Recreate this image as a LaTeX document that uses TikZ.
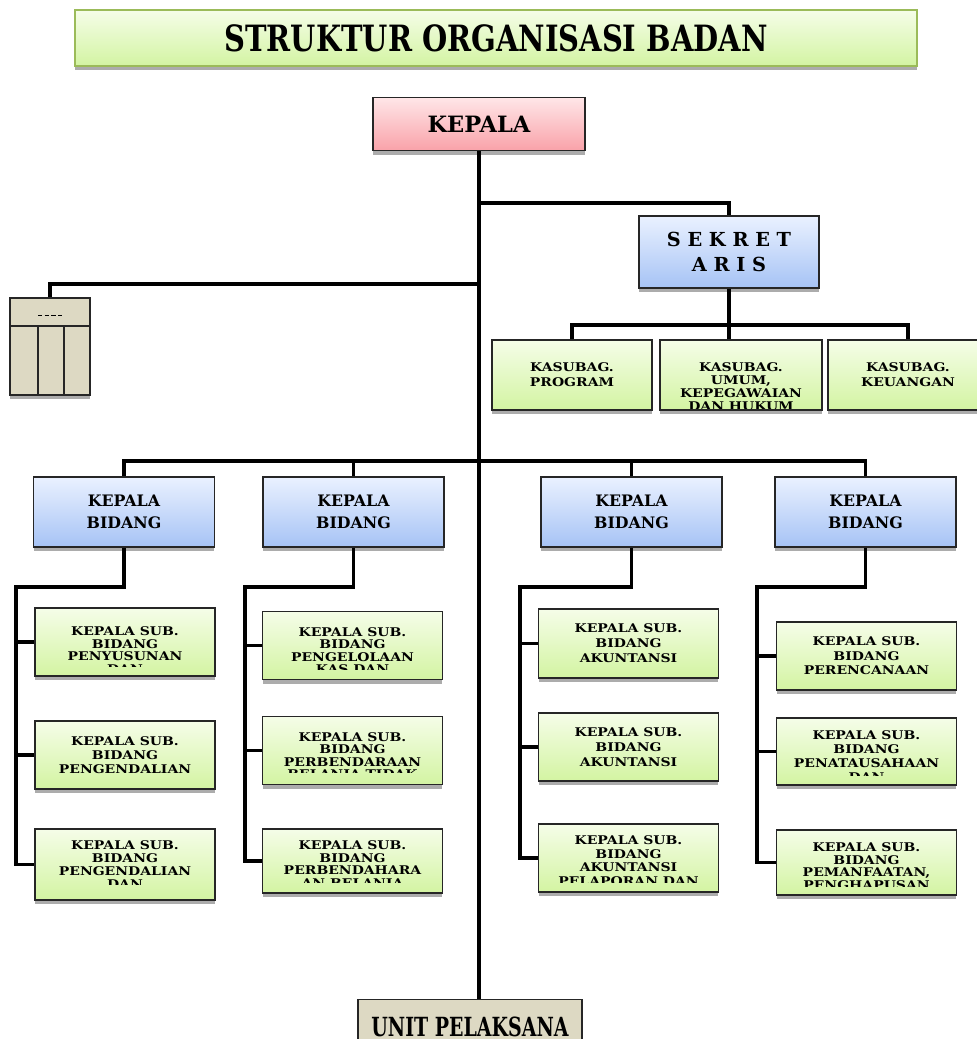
\documentclass[tikz,border=0pt]{standalone}
\usepackage{fontspec}
\setmainfont{DejaVu Serif}
\newfontfamily\condfont{DejaVu Serif}[FakeStretch=0.8]
\newfontfamily\sempitfont{DejaVu Serif}[FakeStretch=0.72]
\newfontfamily\lebarfont{DejaVu Serif}[FakeStretch=1.17]
\usetikzlibrary{shadows}
\usetikzlibrary{positioning}

\definecolor{ijoatas}{HTML}{F5FDE8}
\definecolor{ijobawah}{HTML}{D3F4A2}
\definecolor{biruatas}{HTML}{EAF1FF}
\definecolor{birubawah}{HTML}{A6C3F5}
\definecolor{merahatas}{HTML}{FFE6E8}
\definecolor{merahbawah}{HTML}{F9A2A9}
\definecolor{krem}{HTML}{DDD9C3}
\definecolor{judulgaris}{HTML}{9BBB59}

% huruf kotak kecil, argumen = jarak baris
\newcommand\subfont[1]{\lebarfont\fontsize{6.8}{#1}\selectfont\bfseries}

\tikzset{
  garis/.style={line width=2.2pt},
  box/.style={draw=black!85, line width=0.9pt, inner sep=0pt, align=center,
    drop shadow={shadow xshift=0pt, shadow yshift=-0.08cm, fill=gray!65, opacity=1}},
  ijo/.style={box, top color=ijoatas, bottom color=ijobawah},
  biru/.style={box, top color=biruatas, bottom color=birubawah},
  merah/.style={box, top color=merahatas, bottom color=merahbawah},
  beige/.style={box, fill=krem},
  bidbox/.style={biru, minimum width=3.62cm, minimum height=1.4cm, font=\fontsize{9}{12.5}\selectfont\bfseries},
  subbox/.style={ijo, minimum width=3.6cm, minimum height=1.36cm},
  kasbox/.style={ijo, minimum width=3.2cm, minimum height=1.4cm, font=\subfont{8.5}},
  % teks terpotong: huruf, jarak dari atas, batas bawah, teks
  potong/.style n args={4}{path picture={
    \clip ([yshift=#3]path picture bounding box.south west) rectangle (path picture bounding box.north east);
    \node[anchor=north, align=center, inner sep=0pt, minimum width=0pt, minimum height=0pt,
      draw=none, fill=none, font=#1] at ([yshift=-#2]path picture bounding box.north) {#4};}},
}

\begin{document}
\begin{tikzpicture}[x=0.02cm,y=-0.02cm]
\clip (0,0) rectangle (977,1039);

% judul
\node[box, draw=judulgaris, top color=ijoatas, bottom color=ijobawah, minimum width=16.84cm, minimum height=1.12cm,
  font=\condfont\fontsize{20.6}{24}\selectfont\bfseries] (judul) at (496,38) {STRUKTUR ORGANISASI BADAN};

% pimpinan
\node[merah, minimum width=4.24cm, minimum height=1.06cm, font=\fontsize{12.8}{15}\selectfont\bfseries] (kepala) at (479,124) {KEPALA};
\node[biru, minimum width=3.6cm, minimum height=1.44cm, font=\fontsize{11}{14.2}\selectfont\bfseries] (sek) at (729,252) {S\ E\ K\ R\ E\ T\\A\ R\ I\ S};
\node[beige, minimum width=4.48cm, minimum height=1.1cm, font=\sempitfont\fontsize{15}{17}\selectfont\bfseries] (unit) at (470,1027) {UNIT PELAKSANA};

% kelompok kecil kiri
\node[beige, minimum width=1.6cm, minimum height=1.94cm] (tim) at (50,346.5) {};
\draw[black!85, line width=0.9pt] (10,326) -- (90,326) (38,326) -- (38,395) (64,326) -- (64,395);
\draw[line width=0.45pt, dash pattern=on 2.5pt off 1.3pt] (38,315) -- (63,315);

% subbagian
\node[kasbox] (kb1) at (572,375) {KASUBAG.\\PROGRAM};
\node[kasbox, minimum width=3.24cm, potong={\subfont{7.4}}{0.44cm}{0.04cm}{KASUBAG.\\UMUM,\\KEPEGAWAIAN\\DAN HUKUM}] (kb2) at (741,375) {};
\node[kasbox] (kb3) at (908,375) {KASUBAG.\\KEUANGAN};

% bidang
\node[bidbox] (b1) at (124,512) {KEPALA\\BIDANG};
\node[bidbox] (b2) at (353.5,512) {KEPALA\\BIDANG};
\node[bidbox] (b3) at (631.5,512) {KEPALA\\BIDANG};
\node[bidbox] (b4) at (865.5,512) {KEPALA\\BIDANG};

% sub bidang
\node[subbox, potong={\subfont{7.2}}{0.36cm}{0.2cm}{KEPALA SUB.\\BIDANG\\PENYUSUNAN\\DAN}] (s11) at (125,642) {};
\node[subbox, font=\subfont{8}] (s12) at (125,755) {KEPALA SUB.\\BIDANG\\PENGENDALIAN};
\node[subbox, minimum height=1.42cm, potong={\subfont{7.3}}{0.22cm}{0.32cm}{KEPALA SUB.\\BIDANG\\PENGENDALIAN\\DAN}] (s13) at (125,864.5) {};
\node[subbox, potong={\subfont{7.1}}{0.3cm}{0.2cm}{KEPALA SUB.\\BIDANG\\PENGELOLAAN\\KAS DAN}] (s21) at (352.5,645.5) {};
\node[subbox, potong={\subfont{7.1}}{0.3cm}{0.24cm}{KEPALA SUB.\\BIDANG\\PERBENDARAAN\\BELANJA TIDAK}] (s22) at (352.5,750.5) {};
\node[subbox, minimum height=1.28cm, potong={\subfont{7.1}}{0.22cm}{0.22cm}{KEPALA SUB.\\BIDANG\\PERBENDAHARA\\AN BELANJA}] (s23) at (352.5,861) {};
\node[subbox, minimum height=1.38cm, font=\subfont{8.5}] (s31) at (628.5,643.5) {KEPALA SUB.\\BIDANG\\AKUNTANSI};
\node[subbox, font=\subfont{8.5}] (s32) at (628.5,747) {KEPALA SUB.\\BIDANG\\AKUNTANSI};
\node[subbox, potong={\subfont{7.7}}{0.22cm}{0.2cm}{KEPALA SUB.\\BIDANG\\AKUNTANSI\\PELAPORAN DAN}] (s33) at (628.5,858) {};
\node[subbox, font=\subfont{8.25}] (s41) at (866.5,656) {KEPALA SUB.\\BIDANG\\PERENCANAAN};
\node[subbox, minimum height=1.34cm, potong={\subfont{8}}{0.24cm}{0.2cm}{KEPALA SUB.\\BIDANG\\PENATAUSAHAAN\\DAN}] (s42) at (866.5,751.5) {};
\node[subbox, minimum height=1.3cm, potong={\subfont{7.1}}{0.24cm}{0.18cm}{KEPALA SUB.\\BIDANG\\PEMANFAATAN,\\PENGHAPUSAN}] (s43) at (866.5,862.5) {};

% garis komando
\coordinate (cabsek) at (kepala.south |- 0,203);
\coordinate (cabtim) at (kepala.south |- 0,284);
\draw[garis] (kepala.south) -- (kepala.south |- unit.north);
\draw[garis] (cabsek) -| (sek.north);
\draw[garis] (cabtim) -| (tim.north);
\draw[garis] (sek.south) -- (sek.south |- kb2.north);
\draw[garis] (kb1.north) -- ++(0,-14) -| (kb3.north);
\draw[garis] (b1.north) -- ++(0,-15) -| (b4.north);
\draw[garis] (b2.north) -- ++(0,-15);
\draw[garis] (b3.north) -- ++(0,-15);

% garis sub bidang
\coordinate (t1) at (16,587);
\coordinate (t2) at (245,587);
\coordinate (t3) at (520,587);
\coordinate (t4) at (757,587);
\foreach \i in {1,2,3,4}{
  \draw[garis] (b\i.south) |- (t\i) |- (s\i3.west);
  \draw[garis] (s\i1.west) -- (s\i1.west -| t\i);
  \draw[garis] (s\i2.west) -- (s\i2.west -| t\i);
}

\end{tikzpicture}
\end{document}
